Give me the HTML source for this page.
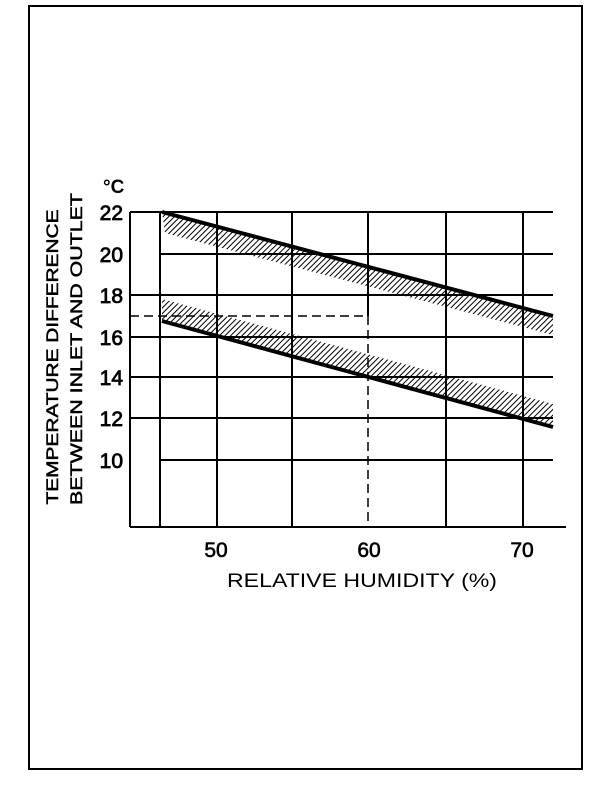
<!DOCTYPE html>
<html><head><meta charset="utf-8"><style>
html,body{margin:0;padding:0;background:#fff}
svg{display:block}
text{font-family:"Liberation Sans",sans-serif;fill:#000}
</style></head><body>
<svg width="608" height="788" viewBox="0 0 608 788">
<defs>
<pattern id="h" patternUnits="userSpaceOnUse" width="4" height="4" patternTransform="rotate(45)">
<rect width="4" height="4" fill="#fff"/><line x1="0" y1="0" x2="0" y2="4" stroke="#000" stroke-width="2"/>
</pattern>
</defs>
<rect x="29" y="6" width="553" height="763" fill="none" stroke="#000" stroke-width="2"/>
<polygon points="162,212 553,316 553,335 165,233" fill="url(#h)"/>
<polygon points="162,299 553,404 553,427 162,321" fill="url(#h)"/>
<g stroke="#000" stroke-width="2">
<line x1="130" y1="212" x2="553" y2="212"/>
<line x1="160" y1="254" x2="553" y2="254"/>
<line x1="130" y1="295" x2="553" y2="295"/>
<line x1="130" y1="337" x2="553" y2="337"/>
<line x1="130" y1="377" x2="553" y2="377"/>
<line x1="130" y1="418" x2="553" y2="418"/>
<line x1="160" y1="460" x2="553" y2="460"/>
<line x1="130" y1="212" x2="130" y2="527"/>
<line x1="130" y1="527" x2="566" y2="527"/>
<line x1="160" y1="212" x2="160" y2="527"/>
<line x1="217" y1="212" x2="217" y2="527"/>
<line x1="292" y1="212" x2="292" y2="527"/>
<line x1="446" y1="212" x2="446" y2="527"/>
<line x1="523" y1="212" x2="523" y2="527"/>
<line x1="368" y1="212" x2="368" y2="316"/>
</g>
<g stroke="#000" stroke-width="1.5" stroke-dasharray="9,5">
<line x1="130" y1="316" x2="368" y2="316"/>
<line x1="368" y1="316" x2="368" y2="527"/>
</g>
<g stroke="#000" stroke-width="4">
<line x1="162" y1="212" x2="553" y2="316"/>
<line x1="162" y1="321" x2="553" y2="427"/>
</g>
<g font-size="21" text-anchor="end" stroke="#000" stroke-width="0.8">
<text x="123" y="220">22</text>
<text x="123" y="262">20</text>
<text x="123" y="303">18</text>
<text x="123" y="345">16</text>
<text x="123" y="385">14</text>
<text x="123" y="426">12</text>
<text x="123" y="468">10</text>
</g>
<text x="103" y="193" font-size="19" font-weight="bold">°C</text>
<g font-size="21" text-anchor="middle" stroke="#000" stroke-width="0.6">
<text x="216" y="557">50</text>
<text x="369" y="557">60</text>
<text x="522" y="557">70</text>
</g>
<text x="362" y="587" font-size="19" text-anchor="middle" textLength="270" lengthAdjust="spacingAndGlyphs">RELATIVE HUMIDITY (%)</text>
<g font-size="17" text-anchor="middle" stroke="#000" stroke-width="0.5">
<text transform="translate(58,357) rotate(-90)" textLength="295" lengthAdjust="spacingAndGlyphs">TEMPERATURE DIFFERENCE</text>
<text transform="translate(82,349) rotate(-90)" textLength="312" lengthAdjust="spacingAndGlyphs">BETWEEN INLET AND OUTLET</text>
</g>
</svg>
</body></html>
